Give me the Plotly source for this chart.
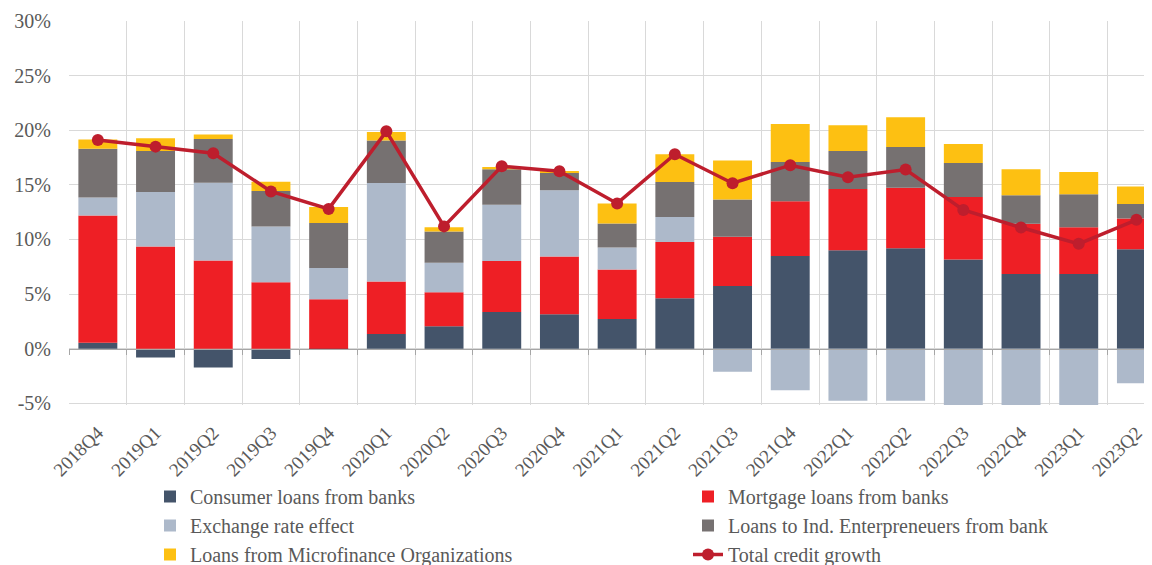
import plotly.graph_objects as go

quarters = ["2018Q4", "2019Q1", "2019Q2", "2019Q3", "2019Q4", "2020Q1", "2020Q2",
            "2020Q3", "2020Q4", "2021Q1", "2021Q2", "2021Q3", "2021Q4", "2022Q1",
            "2022Q2", "2022Q3", "2022Q4", "2023Q1", "2023Q2"]

consumer = [0.55, -0.8, -1.71, -0.95, -0.12, 1.34, 2.05, 3.36, 3.15, 2.72, 4.62,
            5.75, 8.5, 9.02, 9.2, 8.17, 6.85, 6.85, 9.11]
mortgage = [11.65, 9.36, 8.07, 6.09, 4.53, 4.81, 3.12, 4.68, 5.29, 4.53, 5.14,
            4.49, 4.99, 5.6, 5.54, 5.71, 4.59, 4.28, 2.82]
exchange = [1.65, 4.98, 7.13, 5.1, 2.87, 9.02, 2.69, 5.14, 6.06, 2.02, 2.29,
            -2.11, -3.79, -4.77, -4.77, -6.0, -5.3, -6.5, -3.15]
ind_ent = [4.45, 3.76, 4.0, 3.24, 4.1, 3.88, 2.87, 3.24, 1.6, 2.2, 3.21,
           3.43, 3.61, 3.48, 3.73, 3.12, 2.6, 3.0, 1.31]
mfo = [0.85, 1.17, 0.4, 0.86, 1.47, 0.8, 0.4, 0.22, 0.17, 1.83, 2.54,
       3.55, 3.48, 2.36, 2.72, 1.75, 2.38, 2.05, 1.62]
total = [19.1, 18.5, 17.9, 14.4, 12.8, 19.9, 11.2, 16.7, 16.25, 13.3, 17.8,
         15.15, 16.8, 15.7, 16.4, 12.7, 11.1, 9.6, 11.8]

ytick_vals = [-5, 0, 5, 10, 15, 20, 25, 30]
ytick_text = ["-5%", "0%", "5%", "10%", "15%", "20%", "25%", "30%"]

FONT = "Liberation Serif"
TXT = "#595959"
YMIN, YMAX = -5.15, 30
XRANGE = [-0.5, 18.27]

# page body has an 8px margin: figure occupies page x 8..1152, y 8..565
W, H = 1144, 557

fig = go.Figure()
series = [
    ("Consumer loans from banks", consumer, "#44546A", "legend"),
    ("Mortgage loans from banks", mortgage, "#EE1F25", "legend2"),
    ("Exchange rate effect", exchange, "#ADB9CA", "legend"),
    ("Loans to Ind. Enterpreneuers from bank", ind_ent, "#767171", "legend2"),
    ("Loans from Microfinance Organizations", mfo, "#FDC012", "legend"),
]
for name, vals, col, leg in series:
    fig.add_trace(go.Bar(x=quarters, y=vals, name=name, marker_color=col,
                         marker_line_width=0, legend=leg))

fig.add_trace(go.Scatter(x=quarters, y=total, name="Total credit growth",
                         mode="lines+markers", legend="legend2",
                         line=dict(color="#BE1E2D", width=3.5),
                         marker=dict(color="#BE1E2D", size=12)))

# helper axis for the zero line ticks
fig.add_trace(go.Scatter(x=quarters, y=[None] * len(quarters), xaxis="x2",
                         showlegend=False, hoverinfo="skip"))

leg_common = dict(orientation="v", xanchor="left", yanchor="top",
                  xref="container", yref="container", tracegroupgap=0,
                  font=dict(family=FONT, size=20, color=TXT),
                  traceorder="normal", bgcolor="rgba(0,0,0,0)")

fig.update_layout(
    width=W, height=H,
    margin=dict(l=61, r=0, t=13, b=160, autoexpand=False),
    paper_bgcolor="white", plot_bgcolor="white",
    barmode="relative", bargap=0.325,
    font=dict(family=FONT, size=20, color=TXT),
    xaxis=dict(type="category", range=XRANGE, tickson="boundaries",
               showgrid=True, gridcolor="#D9D9D9", gridwidth=1,
               ticks="", tickangle=-45, showline=False, zeroline=False,
               automargin=False, ticklabelstandoff=12,
               tickfont=dict(family=FONT, size=19, color=TXT)),
    xaxis2=dict(type="category", range=XRANGE, overlaying="x", anchor="free",
                position=(0 - YMIN) / (YMAX - YMIN), tickson="boundaries",
                showgrid=False, showticklabels=False, ticks="outside",
                ticklen=5, tickcolor="#A6A6A6", showline=True,
                linecolor="#A6A6A6", linewidth=1, automargin=False),
    yaxis=dict(range=[YMIN, YMAX], tickvals=ytick_vals, ticktext=ytick_text,
               showgrid=True, gridcolor="#D9D9D9", gridwidth=1,
               zeroline=False, showline=False, ticks="", automargin=False,
               ticklabelstandoff=17,
               tickfont=dict(family=FONT, size=20, color=TXT)),
    legend=dict(x=142 / W, y=1 - 469 / H, **leg_common),
    legend2=dict(x=680 / W, y=1 - 469 / H, **leg_common),
    showlegend=True,
)

fig.write_html("out.html")
